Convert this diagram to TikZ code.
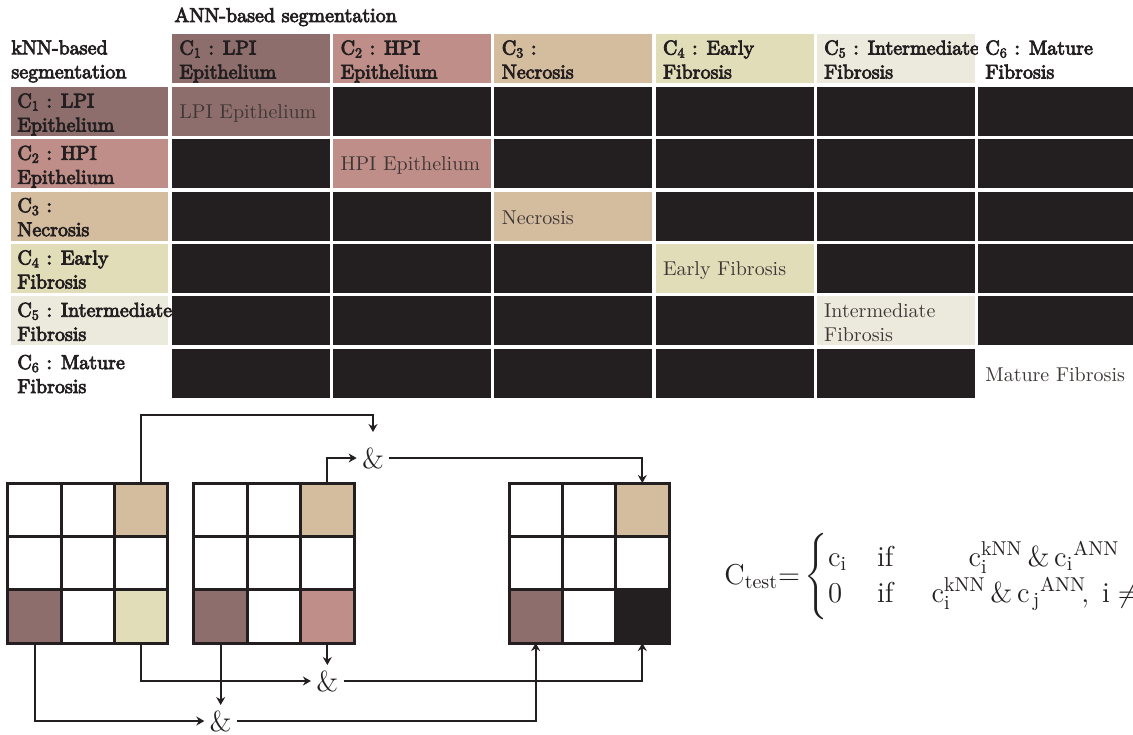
\documentclass[tikz,border=0pt]{standalone}
\usepackage{amsmath}
\usepackage{fontspec}
\usetikzlibrary{arrows.meta,positioning}
\newfontfamily\heavyfont{lmroman10-regular.otf}[FakeBold=4]
\definecolor{ink}{HTML}{231F20}
\definecolor{clsA}{HTML}{8E6E6C}
\definecolor{clsB}{HTML}{C08E88}
\definecolor{clsC}{HTML}{D4BC9E}
\definecolor{clsD}{HTML}{E2DDB9}
\definecolor{clsE}{HTML}{ECEADD}
\definecolor{clsF}{HTML}{FFFFFF}
\definecolor{dimtext}{HTML}{3F3636}

\begin{document}
\begin{tikzpicture}[x=0.5pt,y=-0.5pt,
 cellbox/.style={anchor=north west,minimum width=79pt,minimum height=24.5pt,inner sep=0pt,outer sep=0pt},
 hdtext/.style={anchor=north west,align=left,inner sep=0pt,font=\heavyfont,text=ink},
 dgtext/.style={anchor=west,align=left,inner sep=0pt,text=dimtext},
 gridcell/.style={draw=ink,line width=1.5pt,minimum size=26.67pt,inner sep=0pt,outer sep=0pt},
 andop/.style={font=\Large,text=ink,inner sep=2.5pt},
 arrow/.style={-{Stealth[length=4pt,width=4.5pt]},line width=1.1pt,draw=ink}]
\useasboundingbox (0,0) rectangle (1133,734);

% confusion table
\node[anchor=base west,inner sep=0pt,font=\heavyfont,text=ink] (annlbl) at (174,22) {ANN-based segmentation};
\node[hdtext] (knnlbl) at (11,40) {kNN-based\\segmentation};
\foreach \i/\clr/\hd/\dg in {
  1/clsA/{C\textsubscript{1} : LPI\\Epithelium}/{LPI Epithelium},
  2/clsB/{C\textsubscript{2} : HPI\\Epithelium}/{HPI Epithelium},
  3/clsC/{C\textsubscript{3} :\\Necrosis}/{Necrosis},
  4/clsD/{C\textsubscript{4} : Early\\Fibrosis}/{Early Fibrosis},
  5/clsE/{C\textsubscript{5} : Intermediate\\Fibrosis}/{Intermediate\\Fibrosis},
  6/clsF/{C\textsubscript{6} : Mature\\Fibrosis}/{Mature Fibrosis}}{
  \node[cellbox,fill=\clr] (col\i) at ({172+(\i-1)*161.2},34) {};
  \node[hdtext] (colt\i) at ([shift={(7,6)}]col\i.north west) {\hd};
  \node[cellbox,fill=\clr,minimum width=78.5pt] (row\i) at (11,{87+(\i-1)*52.3}) {};
  \node[hdtext] (rowt\i) at ([shift={(6,6)}]row\i.north west) {\hd};
  \node[cellbox,fill=\clr] (cell\i\i) at ({172+(\i-1)*161.2},{87+(\i-1)*52.3}) {};
  \node[dgtext] (cellt\i) at ([shift={(7,2)}]cell\i\i.west) {\dg};
}
\foreach \r in {1,...,6}{
  \foreach \c in {1,...,6}{
    \ifnum\r=\c\else
      \node[cellbox,fill=ink] (cell\r\c) at ({172+(\c-1)*161.2},{87+(\r-1)*52.3}) {};
    \fi}}

% 3x3 example grids
\foreach \g/\gx/\fa/\fb/\fc in {1/8/clsC/clsA/clsD,2/194/clsC/clsA/clsB,3/509/clsC/clsA/ink}{
  \foreach \r in {1,2,3}{
    \foreach \c in {1,2,3}{
      \def\cf{white}
      \ifnum\r\c=13 \def\cf{\fa}\fi
      \ifnum\r\c=31 \def\cf{\fb}\fi
      \ifnum\r\c=33 \def\cf{\fc}\fi
      \node[gridcell,fill=\cf] (g\g-\r-\c) at ({\gx+(\c-0.5)*53.33},{483+(\r-0.5)*53.33}) {};
    }}}

\node[andop] (andT) at (373,458) {\&};
\node[andop] (andR) at (327.3,681) {\&};
\node[andop] (andB) at (220.7,721) {\&};

\draw[arrow,shorten >=5pt] (g1-1-3.north) -- ++(0,-68) -| (andT.north);
\draw[arrow] (g2-1-3.north) |- (andT.west);
\draw[arrow] (andT.east) -| (g3-1-3.north);
\draw[arrow] (g1-3-3.south) |- (andR.west);
\draw[arrow] (g2-3-3.south) -- (g2-3-3.south |- andR.north);
\draw[arrow] (andR.east) -| (g3-3-3.south);
\draw[arrow] (g1-3-1.south) |- (andB.west);
\draw[arrow] (g2-3-1.south) -- (g2-3-1.south |- andB.north);
\draw[arrow] (andB.east) -| (g3-3-1.south);

\node[anchor=west,inner sep=0pt,text=ink,font=\Large] (eqn) at (724,577) {$\mathrm{C}_{\mathrm{test}}{=}\left\{\begin{array}{@{}l@{\hspace{15pt}}l@{\hspace{19pt}}c@{}}
\rule{0pt}{17pt}\mathrm{c}_{\mathrm{i}} & \mathrm{if} & \mathrm{c}_{\mathrm{i}}^{\mathrm{kNN}}\,\&\,\mathrm{c}_{\mathrm{i}}{}^{\mathrm{ANN}}\\
\rule[-10pt]{0pt}{10pt}0 & \mathrm{if} & \mathrm{c}_{\mathrm{i}}^{\mathrm{kNN}}\,\&\,\mathrm{c}_{\,\mathrm{j}}{}^{\mathrm{ANN}}\!,\;\mathrm{i}\neq\mathrm{j}
\end{array}\right.$};
\end{tikzpicture}
\end{document}
